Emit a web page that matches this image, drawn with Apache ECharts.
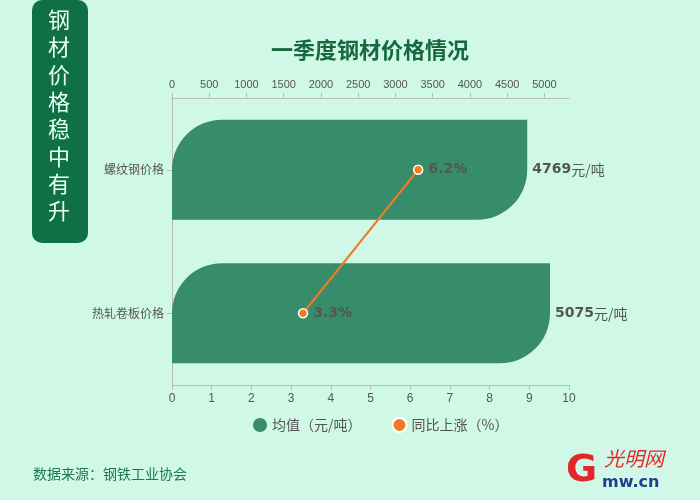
<!DOCTYPE html>
<html><head><meta charset="utf-8">
<script src="https://cdn.jsdelivr.net/npm/echarts@6/dist/echarts.min.js"></script>
<style>html,body{margin:0;padding:0;background:#cff8e6;}#c{width:700px;height:500px;}</style>
</head><body><div id="c"></div>
<script>
var categories = ['热轧卷板价格', '螺纹钢价格'];
var priceValues = [5075, 4769];
var growthValues = [3.3, 6.2];
var priceName = '均值（元/吨）';
var growthName = '同比上涨（%）';

var chart = echarts.init(document.getElementById('c'));
chart.setOption({
  backgroundColor: '#cff8e6',
  title: {
    text: '一季度钢材价格情况', left: 365, top: 34, textAlign: 'center',
    textStyle: { color: '#17683f', fontSize: 22, fontWeight: 'bold', fontFamily: 'Noto Sans CJK SC' }
  },
  legend: {
    bottom: 62, left: 248, itemWidth: 14, itemHeight: 14, itemGap: 30,
    textStyle: { color: '#555', fontSize: 14, fontFamily: 'Noto Sans CJK SC' },
    data: [{ name: priceName, icon: 'circle' }, { name: growthName, icon: 'circle' }]
  },
  grid: { left: 172, right: 131, top: 98, bottom: 115 },
  xAxis: [
    { type: 'value', position: 'top', min: 0, max: 5330, interval: 500,
      axisLine: { show: true, lineStyle: { color: '#bbb' } },
      axisTick: { show: true, lineStyle: { color: '#bbb' } },
      axisLabel: { color: '#555', fontSize: 11, showMaxLabel: false, formatter: function (v) { return String(v); } },
      splitLine: { show: false } },
    { type: 'value', position: 'bottom', min: 0, max: 10, interval: 1,
      axisLine: { show: true, lineStyle: { color: '#bbb' } },
      axisTick: { show: true, lineStyle: { color: '#bbb' } },
      axisLabel: { color: '#555', fontSize: 12 },
      splitLine: { show: false } }
  ],
  yAxis: {
    type: 'category', data: categories,
    axisLine: { lineStyle: { color: '#bbb' } },
    axisTick: { show: true, alignWithLabel: true, lineStyle: { color: '#bbb' } },
    axisLabel: { color: '#555', fontSize: 12, fontFamily: 'Noto Sans CJK SC' }
  },
  series: [
    { name: priceName, type: 'bar', xAxisIndex: 0, data: priceValues, barWidth: 100,
      itemStyle: { color: '#378c69', borderRadius: [50, 0, 50, 0] },
      label: { show: true, position: 'right', distance: 5,
        formatter: function (p) { return '{n|' + p.value + '}{u|元/吨}'; },
        rich: {
          n: { fontSize: 14, fontWeight: 'bold', color: '#555', fontFamily: 'DejaVu Sans' },
          u: { fontSize: 14, color: '#555', fontFamily: 'Noto Sans CJK SC' }
        } }
    },
    { name: growthName, type: 'line', xAxisIndex: 1, data: growthValues,
      symbol: 'circle', symbolSize: 9,
      lineStyle: { color: '#f07a28', width: 2 },
      itemStyle: { color: '#f07a28', borderColor: '#fff', borderWidth: 1.5 },
      label: { show: true, position: 'right', distance: 5,
        formatter: function (p) { return p.value + '%'; },
        color: '#555', fontSize: 14, fontWeight: 'bold', fontFamily: 'DejaVu Sans' }
    }
  ],
  graphic: [
    { type: 'rect', left: 32, top: 0, shape: { width: 56, height: 243, r: 10 },
      style: { fill: '#0f7045' } },
    { type: 'text', left: 48, top: 6,
      style: { text: '钢\n材\n价\n格\n稳\n中\n有\n升', fill: '#e8fff3', fontSize: 22,
        lineHeight: 27.3, fontFamily: 'Noto Sans CJK SC' } },
    { type: 'text', left: 33, top: 467,
      style: { text: '数据来源：钢铁工业协会', fill: '#1e7a4a', fontSize: 14, fontFamily: 'Noto Sans CJK SC' } },
    { type: 'text', left: 566, top: 452,
      style: { text: 'G', fill: '#e3262a', fontSize: 38, fontWeight: 'bold', fontFamily: 'DejaVu Sans' } },
    { type: 'text', left: 604, top: 448,
      style: { text: '光明网', fill: '#e3262a', fontSize: 20, fontStyle: 'italic', fontFamily: 'Noto Sans CJK SC' } },
    { type: 'text', left: 602, top: 475,
      style: { text: 'mw.cn', fill: '#1d3f8f', fontSize: 16, fontWeight: 'bold', fontFamily: 'DejaVu Sans' } }
  ]
});
</script></body></html>
